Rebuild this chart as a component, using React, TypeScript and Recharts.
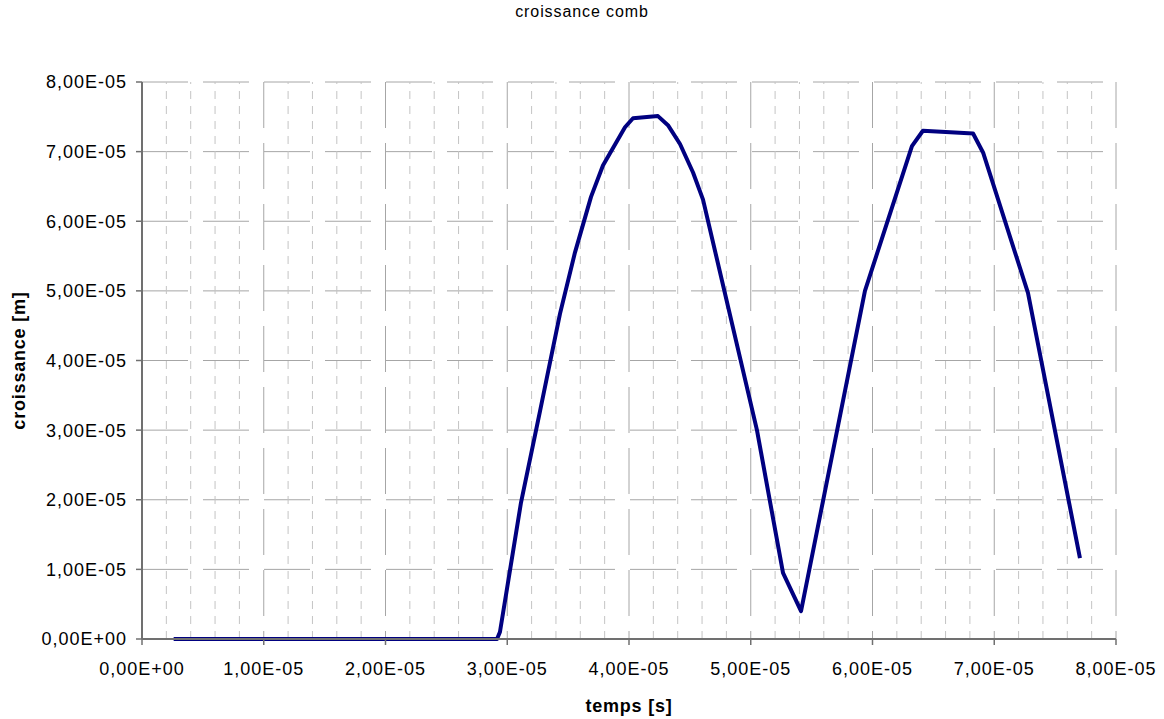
import { LineChart, Line, XAxis, YAxis, CartesianGrid, ReferenceLine, Label } from "recharts";

// temps [s] / croissance [m]
const timeS = [
  0.26e-5, 2.916e-5, 2.94e-5, 3.113e-5, 3.27e-5, 3.433e-5, 3.556e-5, 3.688e-5,
  3.786e-5, 3.967e-5, 4.033e-5, 4.238e-5, 4.32e-5, 4.419e-5, 4.526e-5, 4.608e-5,
  5.051e-5, 5.265e-5, 5.413e-5, 5.938e-5, 6.324e-5, 6.414e-5, 6.826e-5, 6.91e-5,
  7.277e-5, 7.704e-5,
];
const growthM = [
  0, 0, 0.1e-5, 1.96e-5, 3.28e-5, 4.67e-5, 5.55e-5, 6.35e-5,
  6.8e-5, 7.35e-5, 7.48e-5, 7.51e-5, 7.38e-5, 7.11e-5, 6.7e-5, 6.31e-5,
  3.0e-5, 0.95e-5, 0.4e-5, 5.0e-5, 7.08e-5, 7.3e-5, 7.26e-5, 6.98e-5,
  4.97e-5, 1.16e-5,
];

const xTicks = [0, 1e-5, 2e-5, 3e-5, 4e-5, 5e-5, 6e-5, 7e-5, 8e-5];
const yTicks = [0, 1e-5, 2e-5, 3e-5, 4e-5, 5e-5, 6e-5, 7e-5, 8e-5];
const minorXTicks = [
  0.2e-5, 0.4e-5, 0.6e-5, 0.8e-5, 1.2e-5, 1.4e-5, 1.6e-5, 1.8e-5,
  2.2e-5, 2.4e-5, 2.6e-5, 2.8e-5, 3.2e-5, 3.4e-5, 3.6e-5, 3.8e-5,
  4.2e-5, 4.4e-5, 4.6e-5, 4.8e-5, 5.2e-5, 5.4e-5, 5.6e-5, 5.8e-5,
  6.2e-5, 6.4e-5, 6.6e-5, 6.8e-5, 7.2e-5, 7.4e-5, 7.6e-5, 7.8e-5,
];

const data = timeS.map((t, i) => ({ t, c: growthM[i] }));

const font = '"Liberation Sans", Arial, sans-serif';
const tickStyle = { fill: "#000", fontSize: 18, fontFamily: font, letterSpacing: 1 };

// 1e-5 -> "1,00E-05"
function formatSci(v: number) {
  if (v === 0) return "0,00E+00";
  const [m, e] = v.toExponential(2).split("e");
  const n = parseInt(e, 10);
  return m.replace(".", ",") + "E" + (n < 0 ? "-" : "+") + String(Math.abs(n)).padStart(2, "0");
}

export default function App() {
  return (
    <div style={{ position: "absolute", left: 0, top: 0, width: 1164, height: 719, background: "#fff", fontFamily: font }}>
      <div style={{ position: "absolute", left: 0, top: 3, width: 1164, textAlign: "center", fontSize: 16, letterSpacing: 0.9, color: "#000" }}>
        croissance comb
      </div>
      <LineChart width={1164} height={719} data={data} margin={{ top: 82, right: 48, bottom: 30, left: 12 }}>
        <CartesianGrid stroke="#a6a6a6" strokeDasharray="46 15" />
        {minorXTicks.map((x) => (
          <ReferenceLine key={x} x={x} stroke="#c4c4c4" strokeDasharray="8 7" />
        ))}
        <XAxis
          type="number"
          dataKey="t"
          domain={[0, 8e-5]}
          ticks={xTicks}
          interval={0}
          height={50}
          tickSize={6}
          tickMargin={17}
          tickFormatter={formatSci}
          tick={tickStyle}
          axisLine={{ stroke: "#707070", strokeWidth: 2 }}
          tickLine={{ stroke: "#707070", strokeWidth: 1.5 }}
        >
          <Label
            content={(props: any) => {
              const vb = props.viewBox;
              return (
                <text x={vb.x + vb.width / 2} y={712} textAnchor="middle" fontSize={18} letterSpacing={0.8} fontWeight="bold" fontFamily={font} fill="#000">
                  temps [s]
                </text>
              );
            }}
          />
        </XAxis>
        <YAxis
          type="number"
          domain={[0, 8e-5]}
          ticks={yTicks}
          interval={0}
          width={130}
          tickSize={6}
          tickMargin={9}
          tickFormatter={formatSci}
          tick={tickStyle}
          axisLine={{ stroke: "#707070", strokeWidth: 2 }}
          tickLine={{ stroke: "#707070", strokeWidth: 1.5 }}
        >
          <Label
            content={(props: any) => {
              const vb = props.viewBox;
              const cx = 25;
              const cy = vb.y + vb.height / 2;
              return (
                <text x={cx} y={cy} transform={`rotate(-90 ${cx} ${cy})`} textAnchor="middle" fontSize={18} letterSpacing={0.8} fontWeight="bold" fontFamily={font} fill="#000">
                  croissance [m]
                </text>
              );
            }}
          />
        </YAxis>
        <Line
          type="linear"
          dataKey="c"
          stroke="#000080"
          strokeWidth={4}
          strokeLinejoin="round"
          dot={false}
          activeDot={false}
          isAnimationActive={false}
        />
      </LineChart>
    </div>
  );
}
